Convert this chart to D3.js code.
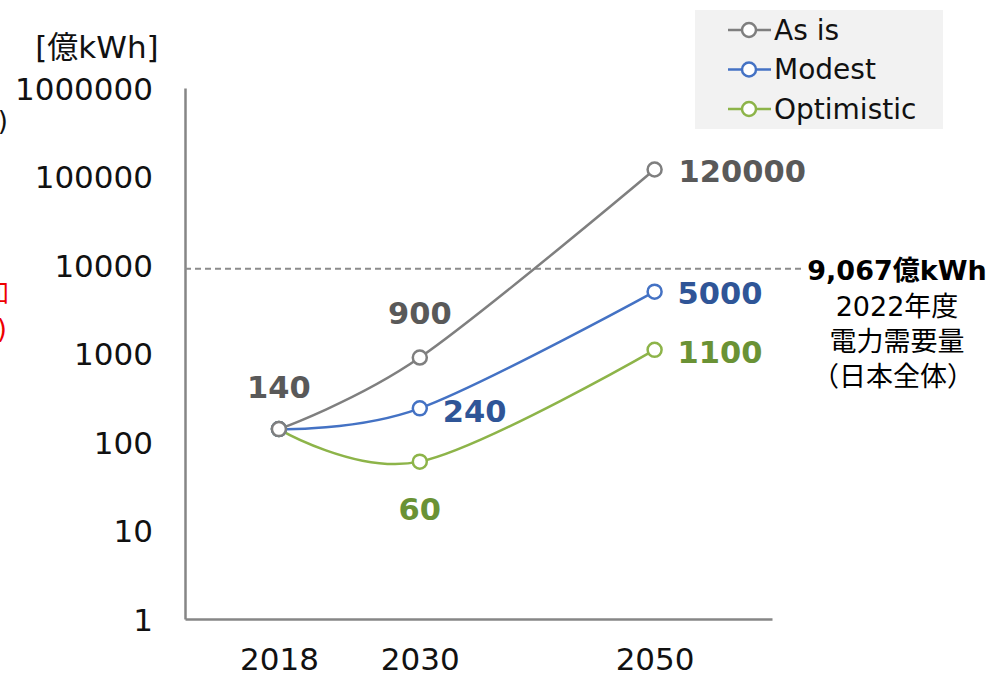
<!DOCTYPE html>
<html>
<head>
<meta charset="utf-8">
<script src="https://cdn.jsdelivr.net/npm/d3@7"></script>
<style>
  body { margin: 0; background: #fff; }
  svg { display: block; font-family: "DejaVu Sans", "Noto Sans CJK JP", sans-serif; }
</style>
</head>
<body>
<svg width="990" height="677"></svg>
<script>
const years = [2018, 2030, 2050];
const seriesNames = ["As is", "Modest", "Optimistic"];
const asIs = [140, 900, 120000];
const modest = [140, 240, 5000];
const optimistic = [140, 60, 1100];
const yTicks = [1, 10, 100, 1000, 10000, 100000, 1000000];
const demand2022 = 9067;

const lineColors = ["#7f7f7f", "#4472c4", "#8db449"];
const labelColors = ["#595959", "#2f5597", "#6a9235"];

let svg = d3.select("svg");
const g = svg.append("g");

let x = d3.scaleLinear().domain([2010, 2060]).range([185, 772]);
let y = d3.scaleLog().domain([1, 1000000]).range([619, 88]);

//axes
const yAxis = d3.axisLeft(y).tickValues(yTicks).tickFormat(d3.format("d")).tickSize(0).tickPadding(32);
g.append("g").attr("transform", "translate(185,0)").call(yAxis)
  .call(a => a.select(".domain").attr("stroke", "#868686").attr("stroke-width", 2.5))
  .selectAll("text").attr("font-size", 31).attr("fill", "#111").attr("dy", "0.36em")
  .attr("font-family", "DejaVu Sans");

const xAxis = d3.axisBottom(x).tickValues(years).tickFormat(d3.format("d")).tickSize(0).tickPadding(29);
g.append("g").attr("transform", "translate(0,619)").call(xAxis)
  .call(a => a.select(".domain").attr("stroke", "#868686").attr("stroke-width", 2.5))
  .selectAll("text").attr("font-size", 31).attr("fill", "#111")
  .attr("font-family", "DejaVu Sans");

g.append("text").attr("x", 97).attr("y", 58).attr("text-anchor", "middle")
  .attr("font-size", 31).attr("fill", "#111").text("[億kWh]");

//cut off text at left edge
g.append("text").attr("x", 8).attr("y", 130).attr("text-anchor", "end")
  .attr("font-size", 26).attr("fill", "#111").text("(年)");
g.append("text").attr("x", 9).attr("y", 302).attr("text-anchor", "end")
  .attr("font-size", 26).attr("fill", "#e00").text("増加");
g.append("text").attr("x", 7).attr("y", 338).attr("text-anchor", "end")
  .attr("font-size", 26).attr("fill", "#e00").text(")");

//2022 demand line
g.append("line")
  .attr("x1", 185).attr("x2", 803)
  .attr("y1", y(demand2022)).attr("y2", y(demand2022))
  .attr("stroke", "#8c8c8c").attr("stroke-width", 2).attr("stroke-dasharray", "6,4");

const ann = g.append("text").attr("text-anchor", "middle").attr("fill", "#000");
ann.append("tspan").attr("x", 897).attr("y", 280).attr("font-weight", "bold").attr("font-size", 27)
  .text(d3.format(",")(demand2022) + "億kWh");
ann.append("tspan").attr("x", 897).attr("y", 316).attr("font-size", 27).text("2022年度");
ann.append("tspan").attr("x", 897).attr("y", 351).attr("font-size", 27).text("電力需要量");
ann.append("tspan").attr("x", 893).attr("y", 386).attr("font-size", 27).text("（日本全体）");

//lines
const allSeries = [asIs, modest, optimistic];
const line = d3.line()
  .x((d, i) => x(years[i]))
  .y(d => y(d))
  .curve(d3.curveCatmullRom.alpha(0));

allSeries.forEach((s, k) => {
  g.append("path")
    .attr("d", line(s))
    .attr("fill", "none")
    .attr("stroke", lineColors[k])
    .attr("stroke-width", 2.5);
});

allSeries.slice().reverse().forEach((s, r) => {
  const k = 2 - r;
  g.selectAll(".pt" + k).data(s).enter()
    .append("circle")
      .attr("class", "pt" + k)
      .attr("cx", (d, i) => x(years[i]))
      .attr("cy", d => y(d))
      .attr("r", 7)
      .attr("fill", "#fff")
      .attr("stroke", lineColors[k])
      .attr("stroke-width", 2.5);
});

//value labels
const labels = [
  { v: asIs[0], i: 0, k: 0, dx: 0, dy: -31, anchor: "middle" },
  { v: asIs[1], i: 1, k: 0, dx: 0, dy: -34, anchor: "middle" },
  { v: asIs[2], i: 2, k: 0, dx: 24, dy: 13, anchor: "start" },
  { v: modest[1], i: 1, k: 1, dx: 23, dy: 14, anchor: "start" },
  { v: modest[2], i: 2, k: 1, dx: 23, dy: 12, anchor: "start" },
  { v: optimistic[1], i: 1, k: 2, dx: 0, dy: 58, anchor: "middle" },
  { v: optimistic[2], i: 2, k: 2, dx: 23, dy: 13, anchor: "start" }
];
g.selectAll(".vlabel").data(labels).enter()
  .append("text")
    .attr("class", "vlabel")
    .attr("x", d => x(years[d.i]) + d.dx)
    .attr("y", d => y(d.v) + d.dy)
    .attr("text-anchor", d => d.anchor)
    .attr("font-size", 30.5)
    .attr("font-weight", "bold")
    .attr("fill", d => labelColors[d.k])
    .text(d => d.v);

//legend
const legend = g.append("g").attr("transform", "translate(695,10)");
legend.append("rect").attr("width", 248).attr("height", 119).attr("fill", "#f2f2f2");
seriesNames.forEach((name, k) => {
  const row = legend.append("g").attr("transform", `translate(0,${20 + k * 39.5})`);
  row.append("line").attr("x1", 33).attr("x2", 76).attr("stroke", lineColors[k]).attr("stroke-width", 2.5);
  row.append("circle").attr("cx", 54).attr("r", 7).attr("fill", "#fff")
    .attr("stroke", lineColors[k]).attr("stroke-width", 2.5);
  row.append("text").attr("x", 79).attr("dy", "0.35em").attr("font-size", 28).attr("fill", "#111").text(name);
});
</script>
</body>
</html>
